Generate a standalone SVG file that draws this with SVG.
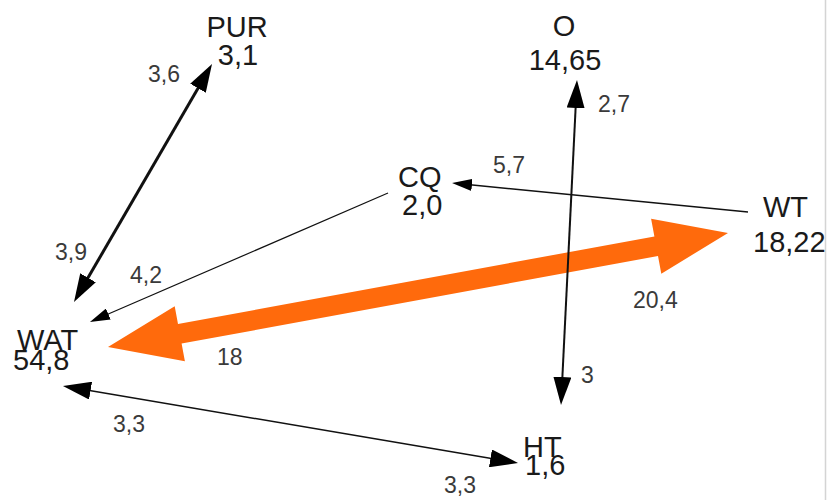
<svg xmlns="http://www.w3.org/2000/svg" width="829" height="500" viewBox="0 0 829 500">
<style>
.node{font-family:"Liberation Sans",Arial,sans-serif;font-size:29px;fill:#1a1a1a}
.lbl{font-family:"Liberation Sans",Arial,sans-serif;font-size:23px;fill:#3a3a3a}
.c{fill:none;stroke:#111}
</style>
<defs>
<marker id="big" markerUnits="userSpaceOnUse" viewBox="0 0 28 18" markerWidth="28" markerHeight="18" refX="16" refY="9" orient="auto-start-reverse">
<path d="M0,0 L28,9 L0,18 Z" fill="#000"/>
</marker>
<marker id="small" markerUnits="userSpaceOnUse" viewBox="0 0 20 12" markerWidth="20" markerHeight="12" refX="12" refY="6" orient="auto-start-reverse">
<path d="M0,0 L20,6 L0,12 Z" fill="#000"/>
</marker>
</defs>
<rect width="829" height="500" fill="#fff"/>
<line x1="825.5" y1="0" x2="825.5" y2="500" stroke="#d4d4d4" stroke-width="1.5"/>
<g id="connectors">
<polygon id="big-flow" points="108,347 174.7,306.3 178,324 654.4,236.4 651.1,218.7 728,233 661.3,273.7 658,256 181.6,343.6 184.9,361.3" fill="#ff6a0c"/>
<line class="c" x1="206" y1="74.4" x2="80" y2="291.6" stroke-width="3" marker-start="url(#big)" marker-end="url(#big)"/>
<line class="c" x1="576.4" y1="92" x2="561.6" y2="393" stroke-width="2" marker-start="url(#big)" marker-end="url(#big)"/>
<line class="c" x1="74.8" y1="388" x2="506.2" y2="461" stroke-width="1.5" stroke="#333" marker-start="url(#big)" marker-end="url(#big)"/>
<line class="c" x1="748" y1="212" x2="460" y2="183.8" stroke-width="1.5" marker-end="url(#small)"/>
<line class="c" x1="388" y1="193" x2="97.3" y2="318.8" stroke-width="1.2" marker-end="url(#small)"/>
<text class="lbl" x="148" y="82">3,6</text>
<text class="lbl" x="55" y="260">3,9</text>
<text class="lbl" x="130" y="283">4,2</text>
<text class="lbl" x="217" y="365">18</text>
<text class="lbl" x="113" y="432">3,3</text>
<text class="lbl" x="444" y="493">3,3</text>
<text class="lbl" x="633" y="308">20,4</text>
<text class="lbl" x="581" y="383">3</text>
<text class="lbl" x="598" y="112">2,7</text>
<text class="lbl" x="493" y="173">5,7</text>
</g>
<g id="PUR"><text class="node" x="237" y="37" text-anchor="middle">PUR</text><text class="node" x="238" y="65" text-anchor="middle">3,1</text></g>
<g id="O"><text class="node" x="564" y="36" text-anchor="middle">O</text><text class="node" x="565" y="70" text-anchor="middle">14,65</text></g>
<g id="CQ"><text class="node" x="398" y="187">CQ</text><text class="node" x="402" y="215">2,0</text></g>
<g id="WT"><text class="node" x="763" y="217">WT</text><text class="node" x="753" y="252">18,22</text></g>
<g id="WAT"><text class="node" x="17" y="350">WAT</text><text class="node" x="13" y="370">54,8</text></g>
<g id="HT"><text class="node" x="523" y="457">HT</text><text class="node" x="525" y="475">1,6</text></g>
</svg>
